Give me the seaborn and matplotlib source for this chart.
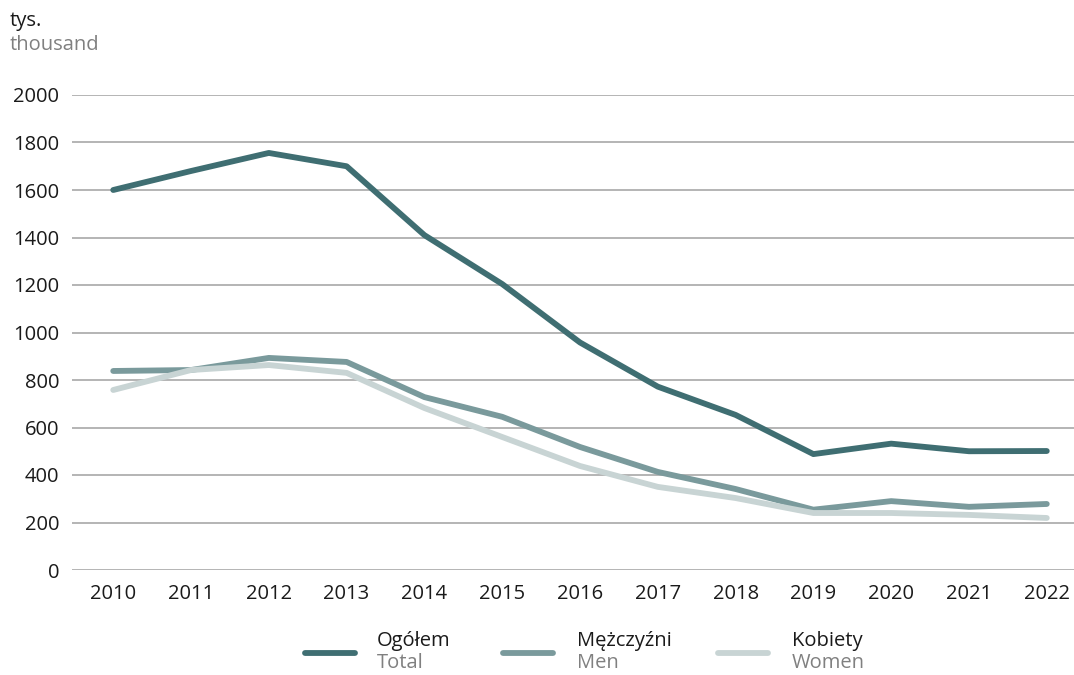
import matplotlib
matplotlib.use("Agg")
import matplotlib.pyplot as plt
import seaborn as sns
import pandas as pd
from matplotlib.lines import Line2D

years = [2010, 2011, 2012, 2013, 2014, 2015, 2016, 2017, 2018, 2019, 2020, 2021, 2022]
total = [1600, 1680, 1756, 1700, 1410, 1204, 958, 772, 653, 488, 532, 500, 501]
men = [838, 842, 893, 876, 728, 645, 518, 413, 341, 254, 290, 266, 278]
women = [758, 842, 863, 830, 682, 560, 438, 350, 303, 240, 240, 232, 219]

series_pl = ["Ogółem", "Mężczyźni", "Kobiety"]
series_en = ["Total", "Men", "Women"]
colors = ["#3f6e72", "#7a9a9c", "#c8d4d4"]

df = pd.DataFrame({
    "year": years * 3,
    "value": total + men + women,
    "series": [series_pl[0]] * len(years) + [series_pl[1]] * len(years) + [series_pl[2]] * len(years),
})

sns.set_style("white")
plt.rcParams["font.family"] = ["Open Sans", "DejaVu Sans"]

fig = plt.figure(figsize=(10.74, 6.75), dpi=100)
ax = fig.add_axes([72 / 1074, 1 - 570 / 675, (1074 - 72) / 1074, 475 / 675])

sns.lineplot(data=df, x="year", y="value", hue="series", hue_order=series_pl,
             palette=colors, linewidth=4.2, ax=ax, legend=False,
             solid_capstyle="round", zorder=3)

ax.set_xlim(2009.47, 2022.35)
ax.set_ylim(0, 2000)
ax.set_yticks(range(0, 2001, 200))
ax.set_xticks(years)
ax.set_xticklabels([str(y) for y in years])
ax.grid(axis="y", color="#a0a0a0", linewidth=1.1, zorder=0)
ax.grid(axis="x", visible=False)
for s in ax.spines.values():
    s.set_visible(False)
ax.tick_params(axis="both", length=0, labelsize=14.5, colors="#1a1a1a")
ax.tick_params(axis="y", pad=9)
ax.tick_params(axis="x", pad=10)
ax.set_xlabel("")
ax.set_ylabel("")

fig.text(10 / 1074, 1 - 21 / 675, "tys.", fontsize=14.5, color="#1a1a1a", va="center", ha="left")
fig.text(10 / 1074, 1 - 45 / 675, "thousand", fontsize=14.5, color="#808080", va="center", ha="left")

handle_x = [305, 503, 718]
text_x = [377, 577, 792]
for hx, tx, c, pl, en in zip(handle_x, text_x, colors, series_pl, series_en):
    fig.add_artist(Line2D([hx / 1074, (hx + 50) / 1074], [1 - 653 / 675] * 2,
                          color=c, linewidth=4.2, solid_capstyle="round",
                          transform=fig.transFigure))
    fig.text(tx / 1074, 1 - 641 / 675, pl, fontsize=14.5, color="#1a1a1a", va="center", ha="left")
    fig.text(tx / 1074, 1 - 663 / 675, en, fontsize=14.5, color="#808080", va="center", ha="left")

fig.savefig("out.png", dpi=100)
